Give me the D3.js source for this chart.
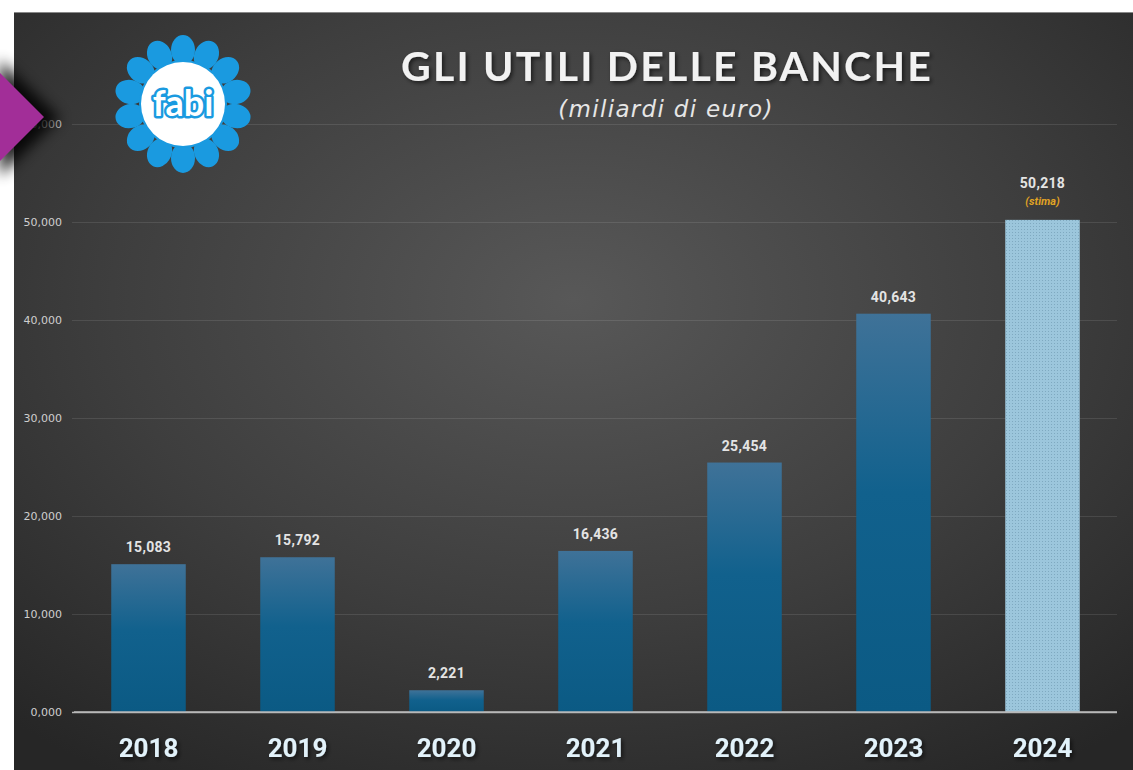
<!DOCTYPE html>
<html>
<head>
<meta charset="utf-8">
<script src="https://cdn.jsdelivr.net/npm/d3@7"></script>
<style>
  html, body { margin: 0; padding: 0; background: #fff; }
  svg { display: block; }
</style>
</head>
<body>
<div id="container"></div>
<script>
var W = 1133, H = 770,
    margin = {top: 124, right: 16, bottom: 58, left: 74};

// data
var years = ['2018', '2019', '2020', '2021', '2022', '2023', '2024'],
    utili = [15.083, 15.792, 2.221, 16.436, 25.454, 40.643, 50.218],
    valueLabels = ['15,083', '15,792', '2,221', '16,436', '25,454', '40,643', '50,218'],
    yTicks = [0, 10000, 20000, 30000, 40000, 50000, 60000],
    yTickLabels = ['0,000', '10,000', '20,000', '30,000', '40,000', '50,000', '60,000'],
    estimated = ['2024'];

var svg = d3.select('#container').append('svg')
    .attr('width', W)
    .attr('height', H);

var defs = svg.append('defs');

/* panel background */
var bg = defs.append('radialGradient').attr('id', 'bgGrad')
    .attr('cx', '0.5').attr('cy', '0.38').attr('r', '0.75');
bg.append('stop').attr('offset', '0%').attr('stop-color', '#585858');
bg.append('stop').attr('offset', '55%').attr('stop-color', '#3e3e3e');
bg.append('stop').attr('offset', '100%').attr('stop-color', '#262626');

var barGrad = defs.append('linearGradient').attr('id', 'barGrad')
    .attr('x1', 0).attr('y1', 0).attr('x2', 0).attr('y2', 1);
barGrad.append('stop').attr('offset', '0%').attr('stop-color', '#3f7298');
barGrad.append('stop').attr('offset', '45%').attr('stop-color', '#11618d');
barGrad.append('stop').attr('offset', '100%').attr('stop-color', '#0b5a84');

// dotted pattern for the estimate bar
var pat = defs.append('pattern').attr('id', 'dots')
    .attr('width', 3).attr('height', 3).attr('patternUnits', 'userSpaceOnUse');
pat.append('rect').attr('width', 3).attr('height', 3).attr('fill', '#9cc6dc');
pat.append('rect').attr('x', 1).attr('y', 1).attr('width', 1).attr('height', 1).attr('fill', '#7fa9c0');

var shadow = defs.append('filter').attr('id', 'arrowShadow')
    .attr('x', '-60%').attr('y', '-60%').attr('width', '220%').attr('height', '220%');
shadow.append('feGaussianBlur').attr('stdDeviation', 7);

var txtShadow = defs.append('filter').attr('id', 'txtShadow');
txtShadow.append('feDropShadow').attr('dx', 2).attr('dy', 2).attr('stdDeviation', 2)
    .attr('flood-color', '#000').attr('flood-opacity', 0.6);

svg.append('rect')
    .attr('x', 14).attr('y', 12)
    .attr('width', W - 14).attr('height', H - 12)
    .attr('fill', 'url(#bgGrad)');
svg.append('line')
    .attr('x1', 14).attr('x2', W).attr('y1', 12.5).attr('y2', 12.5)
    .attr('stroke', '#888').attr('stroke-width', 1);

/* scales */
var xScale = d3.scaleBand()
    .domain(years)
    .range([margin.left, W - margin.right])
    .paddingInner(0.5)
    .paddingOuter(0.25);

var yScale = d3.scaleLinear()
    .domain([0, 60000])
    .range([H - margin.bottom, margin.top]);

/* grid + y labels */
var yAxis = d3.axisLeft(yScale)
    .tickValues(yTicks)
    .tickSize(-(W - margin.right - margin.left + 2))
    .tickPadding(10)
    .tickFormat((d, i) => yTickLabels[i]);

var gy = svg.append('g')
    .classed('yaxis', true)
    .attr('transform', `translate(${margin.left - 2},0)`)
    .call(yAxis);
gy.select('.domain').remove();
gy.selectAll('.tick line')
    .attr('stroke', d => d === 0 ? '#b8b8b8' : 'rgba(255,255,255,0.10)')
    .attr('stroke-width', d => d === 0 ? 1.5 : 1);
gy.selectAll('.tick text')
    .attr('fill', '#cfcfcf')
    .attr('font-family', '"DejaVu Sans", sans-serif')
    .attr('font-size', 11);

/* bars */
var bars = svg.append('g').classed('bars', true);
bars.selectAll('rect').data(years)
    .enter().append('rect')
    .attr('x', d => xScale(d))
    .attr('width', xScale.bandwidth())
    .attr('y', (d, i) => yScale(utili[i] * 1000))
    .attr('height', (d, i) => yScale(0) - yScale(utili[i] * 1000))
    .attr('fill', d => estimated.includes(d) ? 'url(#dots)' : 'url(#barGrad)');

// redraw zero line over bars
svg.append('line')
    .attr('x1', margin.left).attr('x2', W - margin.right)
    .attr('y1', yScale(0)).attr('y2', yScale(0))
    .attr('stroke', '#b8b8b8').attr('stroke-width', 1.5);

/* value labels */
var labelGroup = svg.append('g').classed('labels', true);
labelGroup.selectAll('text.val').data(years)
    .enter().append('text')
    .classed('val', true)
    .attr('x', d => xScale(d) + xScale.bandwidth() / 2)
    .attr('y', (d, i) => yScale(utili[i] * 1000) - (estimated.includes(d) ? 32 : 12))
    .attr('text-anchor', 'middle')
    .attr('font-family', 'Roboto, "Liberation Sans", sans-serif')
    .attr('font-weight', 700)
    .attr('font-size', 14)
    .attr('letter-spacing', 0.3)
    .attr('fill', '#e4e4e4')
    .text((d, i) => valueLabels[i]);

labelGroup.selectAll('text.stima').data(estimated)
    .enter().append('text')
    .classed('stima', true)
    .attr('x', d => xScale(d) + xScale.bandwidth() / 2)
    .attr('y', d => yScale(utili[years.indexOf(d)] * 1000) - 15)
    .attr('text-anchor', 'middle')
    .attr('font-family', 'Roboto, "Liberation Sans", sans-serif')
    .attr('font-weight', 700)
    .attr('font-style', 'italic')
    .attr('font-size', 11)
    .attr('fill', '#e0a324')
    .text('(stima)');

/* x axis labels */
var xAxis = d3.axisBottom(xScale).tickSize(0).tickPadding(27);
var gx = svg.append('g')
    .classed('xaxis', true)
    .attr('transform', `translate(0, ${yScale(0)})`)
    .call(xAxis);
gx.select('.domain').remove();
gx.selectAll('text')
    .attr('fill', '#e2f2fa')
    .attr('font-family', 'Roboto, "Liberation Sans", sans-serif')
    .attr('font-weight', 700)
    .attr('font-size', 26)
    .attr('filter', 'url(#txtShadow)');

/* title */
svg.append('text')
    .attr('x', 667).attr('y', 81)
    .attr('text-anchor', 'middle')
    .attr('font-family', 'Lato, "Open Sans", sans-serif')
    .attr('font-weight', 700)
    .attr('font-size', 41)
    .attr('letter-spacing', 2.2)
    .attr('fill', '#f2f2f2')
    .attr('filter', 'url(#txtShadow)')
    .text('GLI UTILI DELLE BANCHE');

svg.append('text')
    .attr('x', 666).attr('y', 117)
    .attr('text-anchor', 'middle')
    .attr('font-family', '"DejaVu Sans", sans-serif')
    .attr('font-style', 'italic')
    .attr('font-weight', 300)
    .attr('font-size', 23)
    .attr('letter-spacing', 1.3)
    .attr('fill', '#e6e6e6')
    .text('(miliardi di euro)');

/* logo */
var logo = svg.append('g').attr('transform', 'translate(183,104)');
d3.range(14).forEach(i => {
    var a = i * 360 / 14;
    logo.append('ellipse')
        .attr('cx', 0).attr('cy', -54)
        .attr('rx', 12).attr('ry', 15)
        .attr('fill', '#1a9ae0')
        .attr('transform', `rotate(${a})`);
});
logo.append('circle').attr('r', 44).attr('fill', '#1a9ae0');
logo.append('circle').attr('r', 42).attr('fill', '#ffffff');
logo.append('text')
    .attr('text-anchor', 'middle').attr('y', 12)
    .attr('font-family', 'Lato, sans-serif')
    .attr('font-size', 36)
    .attr('font-weight', 700)
    .attr('fill', 'none')
    .attr('stroke', '#1a9ae0')
    .attr('stroke-width', 5)
    .attr('stroke-linejoin', 'round')
    .text('fabi');
logo.append('text')
    .attr('text-anchor', 'middle').attr('y', 12)
    .attr('font-family', 'Lato, sans-serif')
    .attr('font-size', 36)
    .attr('font-weight', 700)
    .attr('fill', '#ffffff')
    .text('fabi');

/* purple arrow on the left */
svg.append('path')
    .attr('d', 'M0,60 L60,118 L0,176 Z')
    .attr('fill', '#000').attr('opacity', 0.85)
    .attr('filter', 'url(#arrowShadow)');
svg.append('path')
    .attr('d', 'M0,73 L44,117 L0,161 Z')
    .attr('fill', '#a22e98');
</script>
</body>
</html>
